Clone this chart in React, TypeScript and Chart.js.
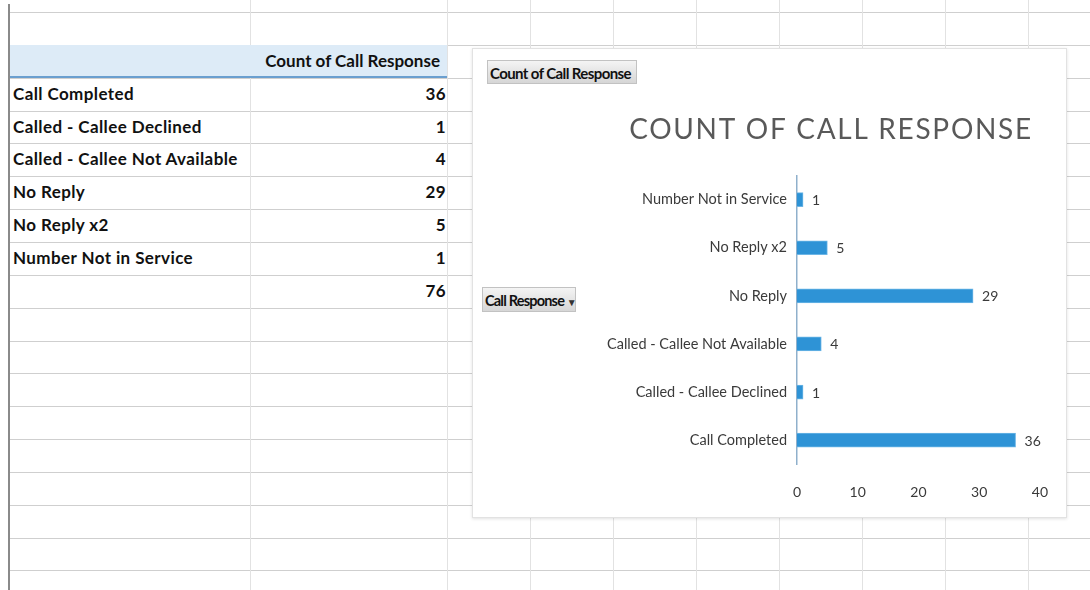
import React, { useEffect, useRef } from "react";
import { Chart, registerables } from "chart.js";

Chart.register(...registerables);

const categories: string[] = [
  "Call Completed",
  "Called - Callee Declined",
  "Called - Callee Not Available",
  "No Reply",
  "No Reply x2",
  "Number Not in Service",
];
const counts: number[] = [36, 1, 4, 29, 5, 1];
const grandTotal = 76;
const valueHeader = "Count of Call Response";
const chartTitle = "COUNT OF CALL RESPONSE";
const fieldButtonValue = "Count of Call Response";
const fieldButtonAxis = "Call Response";
const xMin = 0;
const xMax = 40;
const xStep = 10;

const ROW_H = 32.85;
const ROW0 = 12;
const colLines = [250, 447, 530, 613, 696, 779, 862, 945, 1028];
const CANVAS_LEFT = 598;
const TITLE_CENTER = 830;

const valueLabels = {
  id: "valueLabels",
  afterDatasetsDraw(chart: any) {
    const ctx = chart.ctx;
    const meta = chart.getDatasetMeta(0);
    ctx.save();
    ctx.font = "14px Lato";
    ctx.fillStyle = "#3a3a3a";
    ctx.textAlign = "left";
    ctx.textBaseline = "middle";
    meta.data.forEach((bar: any, i: number) => {
      ctx.fillText(String(chart.data.datasets[0].data[i]), bar.x + 9, bar.y + 1);
    });
    ctx.restore();
  },
};

const spacedTitle = {
  id: "spacedTitle",
  afterDraw(chart: any) {
    const tb = chart.titleBlock;
    if (!tb) return;
    const ctx = chart.ctx;
    ctx.save();
    ctx.font = "28px Lato";
    ctx.fillStyle = "#595959";
    (ctx as any).letterSpacing = "1.7px";
    ctx.textAlign = "center";
    ctx.textBaseline = "middle";
    const cy = tb.top + 13 + (28 * 1.2) / 2;
    ctx.fillText(chartTitle, TITLE_CENTER - CANVAS_LEFT + 1, cy);
    ctx.restore();
  },
};

function BarChart() {
  const ref = useRef<HTMLCanvasElement | null>(null);
  useEffect(() => {
    if (!ref.current) return;
    const chart = new Chart(ref.current, {
      type: "bar",
      data: {
        labels: categories,
        datasets: [
          {
            data: counts,
            backgroundColor: "#2E93D6",
            borderColor: "#6DB6E6",
            borderWidth: 1,
            barThickness: 14,
          },
        ],
      },
      options: {
        indexAxis: "y",
        animation: false,
        responsive: false,
        layout: { padding: { left: 0, right: 17, top: 0, bottom: 10 } },
        plugins: {
          legend: { display: false },
          tooltip: { enabled: false },
          title: {
            display: true,
            text: chartTitle,
            color: "rgba(0,0,0,0)",
            font: { family: "Lato", size: 28, weight: "normal" },
            padding: { top: 13, bottom: 29 },
          },
        },
        scales: {
          x: {
            min: xMin,
            max: xMax,
            ticks: {
              stepSize: xStep,
              color: "#3a3a3a",
              font: { family: "Lato", size: 14 },
              padding: 20,
            },
            grid: { display: false, drawTicks: false },
            border: { display: false },
          },
          y: {
            reverse: true,
            afterFit: (scale: any) => {
              scale.width = 199;
            },
            ticks: {
              color: "#3a3a3a",
              font: { family: "Lato", size: 14.5 },
              padding: 10,
            },
            grid: { display: false, drawTicks: false },
            border: { display: true, color: "#8FB0CC", width: 1.5 },
          },
        },
      },
      plugins: [valueLabels, spacedTitle],
    });
    return () => chart.destroy();
  }, []);
  return <canvas ref={ref} width={470} height={431} style={{ display: "block" }} />;
}

const cellText: React.CSSProperties = {
  position: "absolute",
  height: ROW_H,
  lineHeight: ROW_H + "px",
  fontWeight: 700,
  fontSize: 17,
  letterSpacing: 0.4,
  color: "#111",
  whiteSpace: "nowrap",
};

export default function App() {
  const hLines: number[] = [];
  for (let i = 0; i < 18; i++) hLines.push(ROW0 + i * ROW_H);
  const rowTop = (i: number) => ROW0 + (i + 2) * ROW_H;
  return (
    <div
      style={{
        position: "absolute",
        left: 0,
        top: 0,
        width: 1090,
        height: 590,
        background: "#ffffff",
        overflow: "hidden",
        fontFamily: "Lato, 'Noto Sans', sans-serif",
      }}
    >
      {hLines.map((y, i) => (
        <div
          key={"h" + i}
          style={{ position: "absolute", left: 10, top: y, width: 1080, height: 1, background: "#cfcfcf" }}
        />
      ))}
      {colLines.map((x, i) => (
        <div
          key={"v" + i}
          style={{ position: "absolute", left: x, top: 0, width: 1, height: 590, background: "#e2e2e2" }}
        />
      ))}
      <div style={{ position: "absolute", left: 8, top: 4, width: 2, height: 586, background: "#8a8a8a" }} />

      {/* pivot header */}
      <div
        style={{
          position: "absolute",
          left: 10,
          top: ROW0 + ROW_H,
          width: 437,
          height: ROW_H - 2,
          background: "#DDEBF7",
          borderBottom: "2px solid #6A9FCF",
        }}
      />
      <div style={{ ...cellText, left: 200, width: 240, top: ROW0 + ROW_H, textAlign: "right", letterSpacing: 0 }}>
        {valueHeader}
      </div>
      {categories.map((c, i) => (
        <React.Fragment key={c}>
          <div style={{ ...cellText, left: 13, top: rowTop(i) }}>{c}</div>
          <div style={{ ...cellText, left: 350, width: 96, top: rowTop(i), textAlign: "right" }}>{counts[i]}</div>
        </React.Fragment>
      ))}
      <div style={{ ...cellText, left: 350, width: 96, top: rowTop(categories.length), textAlign: "right" }}>
        {grandTotal}
      </div>

      {/* chart object */}
      <div
        style={{
          position: "absolute",
          left: 472,
          top: 48,
          width: 593,
          height: 468,
          background: "#ffffff",
          border: "1px solid #e2e2e2",
          boxShadow: "0 1px 3px rgba(0,0,0,0.12)",
        }}
      />
      <div
        style={{
          position: "absolute",
          left: 487,
          top: 60,
          width: 150,
          height: 24,
          lineHeight: "24px",
          background: "linear-gradient(#f4f4f4, #d6d6d6)",
          border: "1px solid #c2c2c2",
          boxSizing: "border-box",
          fontWeight: 700,
          fontSize: 15,
          letterSpacing: -0.6,
          paddingLeft: 2,
          color: "#111",
          whiteSpace: "nowrap",
          overflow: "hidden",
        }}
      >
        {fieldButtonValue}
      </div>
      <div
        style={{
          position: "absolute",
          left: 482,
          top: 287,
          width: 94,
          height: 25,
          lineHeight: "25px",
          background: "linear-gradient(#f4f4f4, #d6d6d6)",
          border: "1px solid #c2c2c2",
          boxSizing: "border-box",
          fontWeight: 700,
          fontSize: 14.5,
          letterSpacing: -0.8,
          paddingLeft: 2,
          color: "#111",
          whiteSpace: "nowrap",
          overflow: "hidden",
        }}
      >
        {fieldButtonAxis} <span style={{ fontSize: 10, color: "#333" }}>▼</span>
      </div>
      <div style={{ position: "absolute", left: CANVAS_LEFT, top: 100, width: 470, height: 431 }}>
        <BarChart />
      </div>
    </div>
  );
}
